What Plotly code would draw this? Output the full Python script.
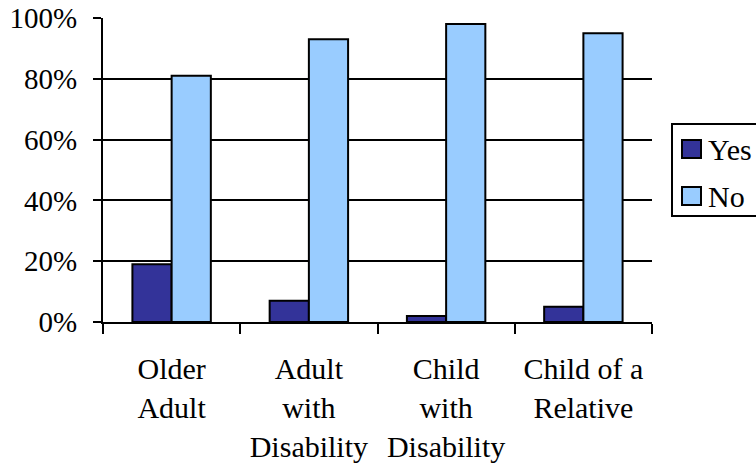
import plotly.graph_objects as go

# Share of respondents per care-recipient type
categories = ["Older<br>Adult", "Adult<br>with<br>Disability", "Child<br>with<br>Disability", "Child of a<br>Relative"]
series_names = ["Yes", "No"]
yes_values = [0.19, 0.07, 0.02, 0.05]
no_values = [0.81, 0.93, 0.98, 0.95]
y_ticks = [0, 0.2, 0.4, 0.6, 0.8, 1.0]

COLORS = ["#333399", "#99CCFF"]
FONT = "Liberation Serif"
W, H = 756, 465
ML, MR, MT, MB = 103, 104, 18, 143
PW, PH = W - ML - MR, H - MT - MB


def px_x(v):
    return (v - ML) / PW


def px_y(v):
    return (H - MB - v) / PH


fig = go.Figure()
for name, vals, col in zip(series_names, [yes_values, no_values], COLORS):
    fig.add_trace(go.Bar(
        name=name, x=categories, y=vals,
        marker=dict(color=col, line=dict(color="black", width=2)),
    ))

# Boxed legend on the right, drawn with paper-referenced shapes
shapes = [dict(type="rect", xref="paper", yref="paper",
               x0=px_x(672), x1=px_x(790), y0=px_y(216), y1=px_y(124),
               line=dict(color="black", width=2), fillcolor="white", layer="above")]
annotations = []
for i, (name, col) in enumerate(zip(series_names, COLORS)):
    cy = 149 + i * 47
    shapes.append(dict(type="rect", xref="paper", yref="paper",
                       x0=px_x(682), x1=px_x(701), y0=px_y(cy + 9), y1=px_y(cy - 9),
                       line=dict(color="black", width=2), fillcolor=col, layer="above"))
    annotations.append(dict(xref="paper", yref="paper", x=px_x(706), y=px_y(cy),
                            xanchor="left", yanchor="middle", showarrow=False,
                            text=name, font=dict(family=FONT, size=30, color="black")))

fig.update_layout(
    width=W, height=H,
    margin=dict(l=ML, r=MR, t=MT, b=MB, autoexpand=False),
    paper_bgcolor="white", plot_bgcolor="white",
    barmode="group", bargap=0.4286, bargroupgap=0,
    font=dict(family=FONT, size=29, color="black"),
    showlegend=False,
    shapes=shapes, annotations=annotations,
)

fig.update_xaxes(
    type="category", tickson="boundaries",
    showline=True, linecolor="black", linewidth=2,
    ticks="outside", ticklen=10, tickwidth=2, tickcolor="black",
    showgrid=False, ticklabelstandoff=19,
    tickfont=dict(family=FONT, size=30, color="black"),
)
fig.update_yaxes(
    range=[0, 1], tickvals=y_ticks, tickformat=".0%",
    showline=True, linecolor="black", linewidth=2,
    ticks="outside", ticklen=8, tickwidth=2, tickcolor="black",
    showgrid=True, gridcolor="black", gridwidth=2,
    zeroline=False, ticklabelstandoff=10,
    tickfont=dict(family=FONT, size=29, color="black"),
)

fig.write_html("out.html")
